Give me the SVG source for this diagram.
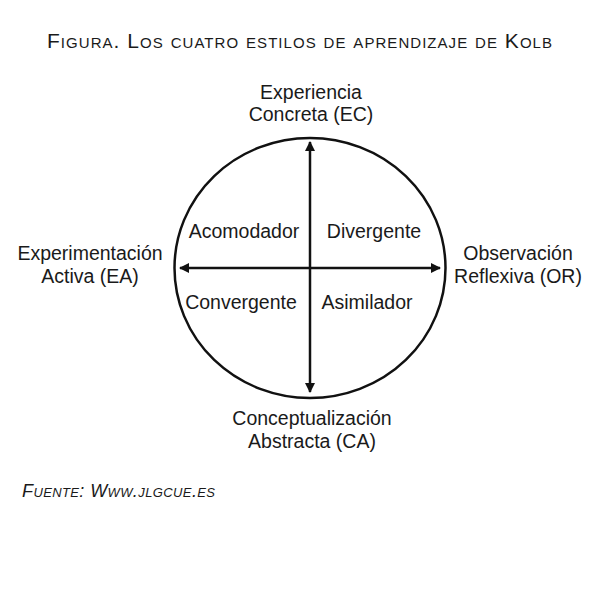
<svg xmlns="http://www.w3.org/2000/svg" width="599" height="608" viewBox="0 0 599 608">
<defs>
<marker id="ah" viewBox="0 0 10 10" refX="9" refY="5" markerWidth="4" markerHeight="4" orient="auto-start-reverse" markerUnits="strokeWidth">
<path d="M0,0 L10,5 L0,10 z" fill="#111"/>
</marker>
</defs>
<style>
text{font-family:"Liberation Sans",Arial,sans-serif;fill:#1a1a1a}
.lbl{font-size:19.5px;text-anchor:middle}
.ttl{font-size:21px;font-variant:small-caps;text-anchor:middle;letter-spacing:1px}
.src{font-size:18px;font-variant:small-caps;font-style:italic}
.ln{stroke:#111;stroke-width:2.5;fill:none}
</style>
<rect width="599" height="608" fill="#fff"/>
<text class="ttl" x="300" y="48" textLength="506" lengthAdjust="spacing">Figura. Los cuatro estilos de aprendizaje de Kolb</text>
<g id="circle"><ellipse cx="310" cy="268" rx="135.5" ry="130" class="ln" stroke-width="3"/></g>
<g id="connectors">
<line class="ln" x1="310" y1="392" x2="310" y2="142" marker-end="url(#ah)" marker-start="url(#ah)"/>
<line class="ln" x1="180" y1="268" x2="440" y2="268" marker-end="url(#ah)" marker-start="url(#ah)"/>
</g>
<g id="ec"><text class="lbl" x="311" y="99">Experiencia</text><text class="lbl" x="311" y="121">Concreta (EC)</text></g>
<g id="ea"><text class="lbl" x="90" y="260">Experimentación</text><text class="lbl" x="90" y="283">Activa (EA)</text></g>
<g id="or"><text class="lbl" x="518" y="260">Observación</text><text class="lbl" x="518" y="283">Reflexiva (OR)</text></g>
<g id="ca"><text class="lbl" x="312" y="425">Conceptualización</text><text class="lbl" x="312" y="448">Abstracta (CA)</text></g>
<g id="acomodador"><text class="lbl" x="244" y="238">Acomodador</text></g>
<g id="divergente"><text class="lbl" x="374" y="238">Divergente</text></g>
<g id="convergente"><text class="lbl" x="241" y="309">Convergente</text></g>
<g id="asimilador"><text class="lbl" x="367" y="309">Asimilador</text></g>
<text class="src" x="22" y="497" textLength="193" lengthAdjust="spacing">Fuente: Www.jlgcue.es</text>
</svg>
